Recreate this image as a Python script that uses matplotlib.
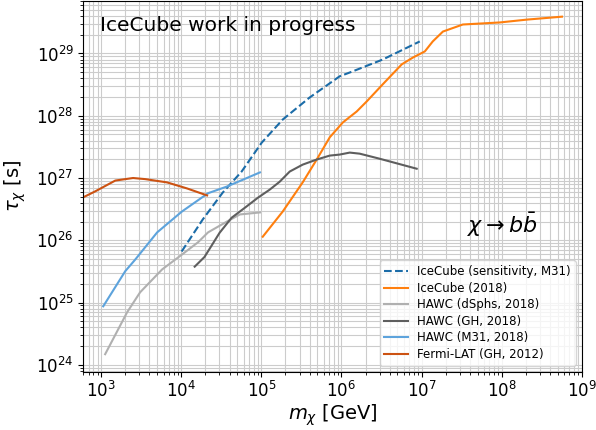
import numpy as np
import matplotlib
matplotlib.use("Agg")
import matplotlib.pyplot as plt

# Lifetime limits, chi -> b bbar
icecube_sens_m = [1.01e4, 1.85e4, 3.28e4, 5.67e4, 1.01e5, 1.85e5, 4.0e5, 9.5e5, 1.27e6, 3.28e6, 9.5e6]
icecube_sens_tau = [6.6e25, 2.15e26, 5.8e26, 1.27e27, 3.7e27, 8.7e27, 1.96e28, 4.3e28, 4.95e28, 8.0e28, 1.56e29]

icecube_2018_m = [1.04e5, 1.85e5, 3.28e5, 4.91e5, 7.14e5, 1.04e6, 1.55e6, 2.07e6, 3.28e6, 5.67e6,
                  7.8e6, 1.1e7, 1.38e7, 1.85e7, 3.28e7, 9.5e7, 2.07e8, 5.67e8]
icecube_2018_tau = [1.14e26, 2.9e26, 8.5e26, 1.98e27, 4.5e27, 7.8e27, 1.17e28, 1.7e28, 3.2e28, 6.7e28,
                    8.6e28, 1.08e29, 1.56e29, 2.25e29, 2.92e29, 3.15e29, 3.5e29, 3.9e29]

hawc_dsph_m = [1.12e3, 2.11e3, 3.06e3, 5.76e3, 1.02e4, 1.62e4, 2.16e4, 3.72e4, 5.4e4, 9.6e4]
hawc_dsph_tau = [1.48e24, 7.0e24, 1.46e25, 3.4e25, 5.9e25, 9.3e25, 1.34e26, 2.0e26, 2.6e26, 2.8e26]

hawc_gh_m = [1.47e4, 1.95e4, 3.01e4, 4.25e4, 6.55e4, 9.0e4, 1.27e5, 1.69e5, 2.26e5, 3.28e5,
             4.91e5, 7.14e5, 9.52e5, 1.27e6, 1.69e6, 3.0e6, 8.7e6]
hawc_gh_tau = [3.77e25, 5.4e25, 1.32e26, 2.3e26, 3.5e26, 4.8e26, 6.5e26, 8.7e26, 1.27e27, 1.64e27,
               1.98e27, 2.29e27, 2.38e27, 2.56e27, 2.46e27, 2.04e27, 1.41e27]

hawc_m31_m = [1.06e3, 2.0e3, 2.66e3, 5.0e3, 1.02e4, 2.16e4, 3.72e4, 9.6e4]
hawc_m31_tau = [8.7e24, 3.2e25, 4.9e25, 1.34e26, 2.9e26, 5.7e26, 7.3e26, 1.23e27]

fermi_m = [5.97e2, 8.41e2, 1.5e3, 2.5e3, 3.54e3, 6.65e3, 1.18e4, 2.1e4]
fermi_tau = [4.9e26, 6.1e26, 9.1e26, 1.0e27, 9.6e26, 8.5e26, 6.8e26, 5.25e26]

fig = plt.figure(figsize=(5.96, 4.3), dpi=100)
ax = fig.add_axes([0.14, 0.136, 0.836, 0.862])

ax.plot(icecube_sens_m, icecube_sens_tau, color="#1b6ca8", linestyle="--", linewidth=1.5,
        label="IceCube (sensitivity, M31)")
ax.plot(icecube_2018_m, icecube_2018_tau, color="#ff7f0e", linewidth=1.5, label="IceCube (2018)")
ax.plot(hawc_dsph_m, hawc_dsph_tau, color="#b0b0b0", linewidth=1.5, label="HAWC (dSphs, 2018)")
ax.plot(hawc_gh_m, hawc_gh_tau, color="#5e5e5e", linewidth=1.5, label="HAWC (GH, 2018)")
ax.plot(hawc_m31_m, hawc_m31_tau, color="#5da3dc", linewidth=1.5, label="HAWC (M31, 2018)")
ax.plot(fermi_m, fermi_tau, color="#cc5212", linewidth=1.5, label="Fermi-LAT (GH, 2012)")

ax.set_xscale("log")
ax.set_yscale("log")
ax.set_xlim(6e2, 1e9)
ax.set_ylim(7.8e23, 7e29)
ax.grid(True, which="both", color="#cccccc", linewidth=0.8)
ax.tick_params(axis="both", which="major", labelsize=12)

ax.set_xlabel(r"$m_\chi$ [GeV]", fontsize=14, labelpad=1)
ax.set_ylabel(r"$\tau_\chi$ [s]", fontsize=14, labelpad=6)

ax.text(0.033, 0.96, "IceCube work in progress", transform=ax.transAxes, fontsize=14.5,
        va="top", ha="left")
ax.text(0.912, 0.395, r"$\chi \rightarrow b\bar{b}$", transform=ax.transAxes, fontsize=16,
        va="center", ha="right")

ax.legend(loc="lower right", fontsize=8.5, labelspacing=0.3)

fig.savefig("out.png", dpi=100)
